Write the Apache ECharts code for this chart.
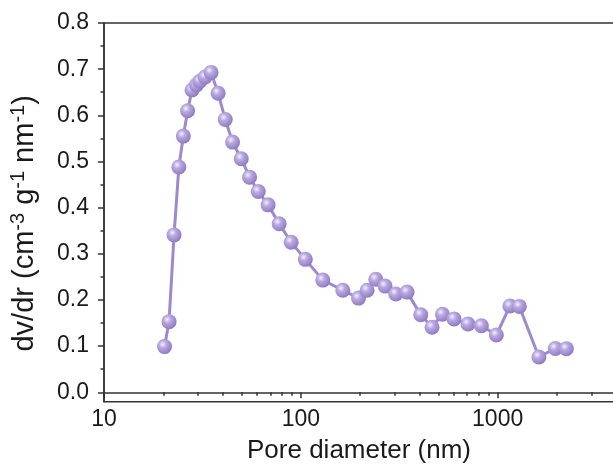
<!DOCTYPE html>
<html>
<head>
<meta charset="utf-8">
<script src="https://cdn.jsdelivr.net/npm/echarts@6/dist/echarts.min.js"></script>
<style>
html,body{margin:0;padding:0;background:#fff;}
#c{width:613px;height:472px;}
</style>
</head>
<body>
<div id="c"></div>
<script>
const poreDiameter = [20.3, 21.4, 22.7, 24.0, 25.3, 26.6, 28.0, 29.5, 30.7, 32.6, 35.0, 38.0, 41.3, 45.0, 49.8, 54.9, 60.8, 68.2, 77.6, 89.3, 105.4, 129.3, 163.4, 196.3, 217.1, 240.3, 267.9, 303.5, 346.5, 406.6, 464.1, 524.1, 600.1, 706.9, 826.6, 984.9, 1154, 1289, 1620, 1963, 2232];
const dvdr = [0.099, 0.153, 0.341, 0.488, 0.555, 0.610, 0.655, 0.666, 0.674, 0.683, 0.693, 0.648, 0.591, 0.542, 0.506, 0.466, 0.435, 0.406, 0.365, 0.325, 0.288, 0.243, 0.221, 0.204, 0.221, 0.245, 0.230, 0.213, 0.217, 0.168, 0.141, 0.169, 0.159, 0.148, 0.144, 0.124, 0.187, 0.186, 0.0765, 0.095, 0.0945];
const xMajorTicks = [10, 100, 1000];
const xMinorTicks = [20, 30, 40, 50, 60, 70, 80, 90, 200, 300, 400, 500, 600, 700, 800, 900, 2000, 3000];
const yMajorTicks = [0, 0.1, 0.2, 0.3, 0.4, 0.5, 0.6, 0.7, 0.8];
const yMinorTicks = [0.05, 0.15, 0.25, 0.35, 0.45, 0.55, 0.65, 0.75];

const chart = echarts.init(document.getElementById('c'), null, {renderer: 'canvas'});
const axisColor = '#333';
const textColor = '#1a1a1a';
const font = 'Liberation Sans, Arial, sans-serif';
const X_MIN = 10, X_MAX = 3900, Y_MIN = -0.0204, Y_MAX = 0.8;

const option = {
  backgroundColor: '#fff',
  animation: false,
  grid: {left: 104, top: 23, width: 510, height: 378.7, show: true, borderColor: axisColor, borderWidth: 1.5,
    backgroundColor: 'transparent', containLabel: false, outerBoundsMode: 'none'},
  xAxis: [
    {
      type: 'log', logBase: 10, min: X_MIN, max: X_MAX, position: 'bottom',
      axisLine: {show: true, lineStyle: {color: axisColor, width: 1.5}},
      axisTick: {show: true, inside: false, length: 6, customValues: xMajorTicks, lineStyle: {color: axisColor, width: 1.5}},
      axisLabel: {show: true, customValues: xMajorTicks, fontSize: 23, color: textColor, fontFamily: font, margin: 6,
        formatter: v => String(Math.round(v))},
      splitLine: {show: false},
      name: 'Pore diameter (nm)', nameLocation: 'middle', nameGap: 36,
      nameTextStyle: {fontSize: 26, color: textColor, fontFamily: font}
    },
    {
      type: 'log', logBase: 10, min: X_MIN, max: X_MAX, position: 'bottom', offset: 0,
      axisLine: {show: false},
      axisTick: {show: true, inside: false, length: 3.5, customValues: xMinorTicks, lineStyle: {color: axisColor, width: 1.5}},
      axisLabel: {show: false},
      splitLine: {show: false}
    }
  ],
  yAxis: [
    {
      type: 'value', min: Y_MIN, max: Y_MAX, position: 'left',
      axisLine: {show: true, lineStyle: {color: axisColor, width: 1.5}},
      axisTick: {show: true, inside: false, length: 6, customValues: yMajorTicks, lineStyle: {color: axisColor, width: 1.5}},
      axisLabel: {show: true, customValues: yMajorTicks, fontSize: 23, color: textColor, fontFamily: font, margin: 15,
        formatter: v => Number(v).toFixed(1)},
      splitLine: {show: false},
      name: '{a|dv/dr (cm}{s|-3}{a| g}{s|-1}{a| nm}{s|-1}{a|)}',
      nameLocation: 'middle', nameGap: 62, nameRotate: 90,
      nameTextStyle: {
        fontFamily: font, color: textColor, padding: [0, 22, 0, 0],
        rich: {
          a: {fontSize: 29, fontFamily: font, color: textColor, lineHeight: 34},
          s: {fontSize: 20, fontFamily: font, color: textColor, lineHeight: 34, padding: [0, 0, 14, 0]}
        }
      }
    },
    {
      type: 'value', min: Y_MIN, max: Y_MAX, position: 'left', offset: 0,
      axisLine: {show: false},
      axisTick: {show: true, inside: false, length: 3.5, customValues: yMinorTicks, lineStyle: {color: axisColor, width: 1.5}},
      axisLabel: {show: false},
      splitLine: {show: false}
    }
  ],
  series: [{
    type: 'line', xAxisIndex: 0, yAxisIndex: 0,
    data: poreDiameter.map((d, i) => [d, dvdr[i]]),
    symbol: 'circle', symbolSize: 15, showSymbol: true,
    lineStyle: {color: '#9d89cc', width: 3},
    itemStyle: {
      color: {type: 'radial', x: 0.38, y: 0.35, r: 0.7,
        colorStops: [{offset: 0, color: '#f4f0fb'}, {offset: 0.35, color: '#b9a8e0'}, {offset: 1, color: '#8c76c0'}]},
      borderWidth: 0
    },
    z: 3
  }]
};
chart.setOption(option);
</script>
</body>
</html>
